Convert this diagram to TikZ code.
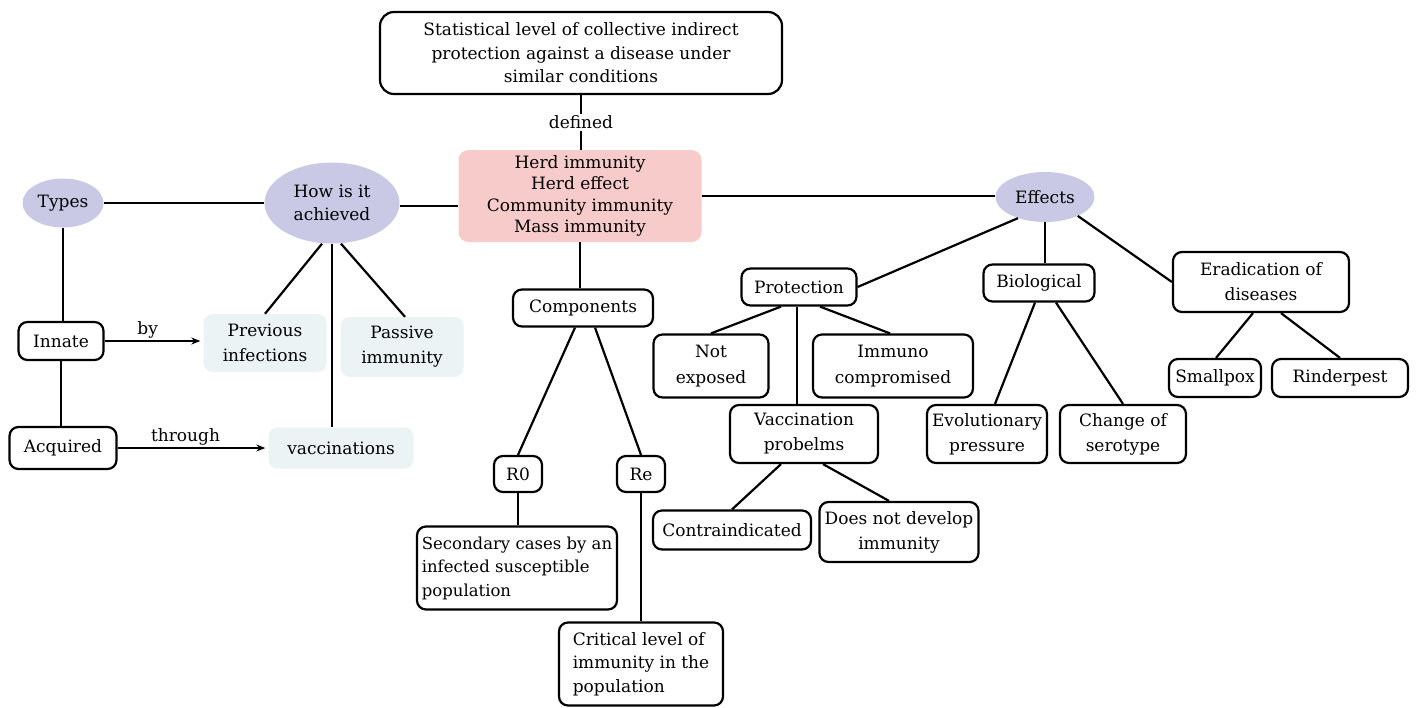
\documentclass[tikz,border=0pt]{standalone}
\usepackage{fontspec}
\setmainfont{DejaVu Serif}
\usetikzlibrary{arrows.meta,shapes.geometric}
\definecolor{pinkf}{HTML}{F8CBCB}
\definecolor{lav}{HTML}{C9C9E6}
\definecolor{pale}{HTML}{EBF3F5}
\begin{document}
\begin{tikzpicture}[x=1pt,y=-1pt,
  font=\fontsize{17}{23.5}\selectfont,
  sz/.style 2 args={minimum width=#1pt, minimum height=#2pt},
  box/.style={draw, line width=2.2pt, rounded corners=9pt, align=center, inner sep=0pt},
  oval/.style={ellipse, fill=lav, inner sep=0pt, align=center},
  pal/.style={fill=pale, rounded corners=9pt, inner sep=0pt, align=center},
  con/.style={line width=2.2pt},
  arr/.style={line width=1.2pt, -{Stealth[length=9pt,width=7pt]}},
  lbl/.style={inner sep=2pt}
]
\useasboundingbox (0,0) rectangle (1418,707);

% nodes
\node[box, rounded corners=14pt, sz={402}{82}] (top) at (581,53)
  {Statistical level of collective indirect\\protection against a disease under\\similar conditions};
\node[fill=pinkf, rounded corners=10pt, inner sep=0pt, align=center, sz={243}{92},
  font=\fontsize{17}{21.3}\selectfont] (herd) at (580,196)
  {Herd immunity\\Herd effect\\Community immunity\\Mass immunity};

\node[oval, sz={81}{49}] (types) at (63,203) {Types};
\node[oval, sz={135}{81}] (how) at (332,203) {How is it\\achieved};
\node[oval, sz={99}{50}] (effects) at (1045,197) {Effects};

\node[box, sz={85}{38}] (innate) at (61,341) {Innate};
\node[box, sz={107}{42}] (acq) at (63,448) {Acquired};

\node[pal, sz={123}{58}, font=\fontsize{17}{25}\selectfont] (prev) at (265,343) {Previous\\infections};
\node[pal, sz={123}{60}, font=\fontsize{17}{25}\selectfont] (pass) at (402,347) {Passive\\immunity};
\node[pal, sz={145}{41}] (vacc) at (341,448) {vaccinations};

\node[box, sz={140}{37}] (comp) at (583,308) {Components};
\node[box, sz={48}{36}] (r0) at (518,474) {R0};
\node[box, sz={48}{36}] (re) at (641,474) {Re};
\node[box, sz={200}{83}, align=left, font=\fontsize{16.5}{23.5}\selectfont] (sec) at (517,568)
  {Secondary cases by an\\infected susceptible\\population};
\node[box, sz={164}{83}, align=left] (crit) at (641,664)
  {Critical level of\\immunity in the\\population};

\node[box, sz={115}{37}] (prot) at (799,287) {Protection};
\node[box, sz={111}{37}] (bio) at (1039,283) {Biological};
\node[box, sz={176}{60}, font=\fontsize{17}{25}\selectfont] (erad) at (1261,282) {Eradication of\\diseases};

\node[box, sz={115}{63}, font=\fontsize{17}{26}\selectfont] (notexp) at (711,366) {Not\\exposed};
\node[box, sz={160}{63}, font=\fontsize{17}{26}\selectfont] (immuno) at (893,366) {Immuno\\compromised};
\node[box, sz={148}{58}, font=\fontsize{17}{25}\selectfont] (vp) at (804,434) {Vaccination\\probelms};
\node[box, sz={158}{39}] (contra) at (732,530) {Contraindicated};
\node[box, sz={159}{60}, font=\fontsize{17}{25}\selectfont] (does) at (899,532) {Does not develop\\immunity};

\node[box, sz={120}{58}, font=\fontsize{17}{25}\selectfont] (evol) at (987,434) {Evolutionary\\pressure};
\node[box, sz={126}{58}, font=\fontsize{17}{25}\selectfont] (change) at (1123,434) {Change of\\serotype};
\node[box, sz={92}{38}] (small) at (1215,378) {Smallpox};
\node[box, sz={136}{38}] (rind) at (1340,378) {Rinderpest};

% connectors
\draw[con] (top.south) -- node[midway, fill=white, lbl] (deflbl) {defined} (top.south |- herd.north);
\draw[con] (types.east) -- (how.west);
\draw[con] ([yshift=-3pt]how.east) -- ([yshift=-3pt]herd.west |- how.east);
\draw[con] (herd.east) -- (effects.west |- herd.east);
\draw[con] (herd.south) -- (herd.south |- comp.north);

\draw[con] (types.south) -- (types.south |- innate.north);
\draw[con] (innate.south) -- (innate.south |- acq.north);
\draw[arr] (innate.east) -- node[above, lbl, pos=0.45] (bylbl) {by} ([xshift=-3pt]prev.west |- innate.east);
\draw[arr] (acq.east) -- node[above, lbl, pos=0.46] (thrlbl) {through} ([xshift=-3pt]vacc.west);

\draw[con] ([xshift=-10pt]how.south) -- (prev.north);
\draw[con] (how.south) -- (how.south |- vacc.north);
\draw[con] ([xshift=9pt]how.south) -- ([xshift=3pt]pass.north);

\draw[con] ([xshift=-8pt]comp.south) -- (r0.north);
\draw[con] ([xshift=12pt]comp.south) -- (re.north);
\draw[con] (r0.south) -- (r0.south |- sec.north);
\draw[con] (re.south) -- (re.south |- crit.north);

\draw[con] (effects.218) -- (prot.east);
\draw[con] (effects.south) -- (effects.south |- bio.north);
\draw[con] (effects.-30) -- (erad.west);

\draw[con] ([xshift=-18pt]prot.south) -- (notexp.north);
\draw[con] ([xshift=-2pt]prot.south) -- ([xshift=-2pt]prot.south |- vp.north);
\draw[con] ([xshift=21pt]prot.south) -- ([xshift=-3pt]immuno.north);
\draw[con] ([xshift=-23pt]vp.south) -- (contra.north);
\draw[con] ([xshift=19pt]vp.south) -- ([xshift=-10pt]does.north);

\draw[con] ([xshift=-4pt]bio.south) -- ([xshift=8pt]evol.north);
\draw[con] ([xshift=17pt]bio.south) -- (change.north);
\draw[con] ([xshift=-8pt]erad.south) -- ([xshift=1pt]small.north);
\draw[con] ([xshift=20pt]erad.south) -- (rind.north);
\end{tikzpicture}
\end{document}
